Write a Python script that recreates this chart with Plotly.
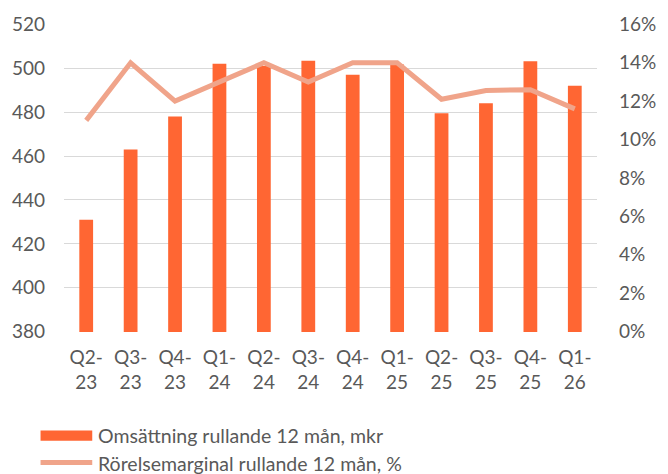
import plotly.graph_objects as go

quarters = ["Q2-<br>23", "Q3-<br>23", "Q4-<br>23", "Q1-<br>24", "Q2-<br>24", "Q3-<br>24",
            "Q4-<br>24", "Q1-<br>25", "Q2-<br>25", "Q3-<br>25", "Q4-<br>25", "Q1-<br>26"]
omsattning = [431, 463, 478, 502, 501, 503.4, 497, 501.7, 479.5, 484, 503.2, 492]
marginal = [0.110, 0.140, 0.120, 0.130, 0.140, 0.130, 0.140, 0.140, 0.121, 0.1255, 0.126, 0.116]

bar_color = "#FF6633"
line_color = "#F0A48A"
text_color = "#595959"
font_family = "Lato, 'Open Sans', sans-serif"

fig = go.Figure()

fig.add_trace(
    go.Bar(
        x=quarters,
        y=omsattning,
        marker=dict(color=bar_color, line=dict(width=0)),
        name="Omsättning rullande 12 mån, mkr",
        showlegend=False,
    )
)

fig.add_trace(
    go.Scatter(
        x=quarters,
        y=marginal,
        mode="lines",
        line=dict(color=line_color, width=5),
        yaxis="y2",
        name="Rörelsemarginal rullande 12 mån, %",
        showlegend=False,
    )
)

# hand-drawn legend below the chart
fig.add_shape(type="rect", xref="paper", yref="paper",
              x0=-0.044, x1=0.053, y0=-0.353, y1=-0.320,
              fillcolor=bar_color, line=dict(width=0))
fig.add_shape(type="line", xref="paper", yref="paper",
              x0=-0.044, x1=0.053, y0=-0.424, y1=-0.424,
              line=dict(color=line_color, width=5))
fig.add_annotation(xref="paper", yref="paper", x=0.060, y=-0.337,
                   text="Omsättning rullande 12 mån, mkr", showarrow=False,
                   xanchor="left", yanchor="middle",
                   font=dict(size=19.5, color=text_color, family=font_family))
fig.add_annotation(xref="paper", yref="paper", x=0.060, y=-0.426,
                   text="Rörelsemarginal rullande 12 mån, %", showarrow=False,
                   xanchor="left", yanchor="middle",
                   font=dict(size=19.5, color=text_color, family=font_family))

pad = 0.15
fig.update_layout(
    width=668,
    height=474,
    margin=dict(l=64, r=56, t=23, b=142),
    plot_bgcolor="white",
    paper_bgcolor="white",
    bargap=0.69,
    font=dict(family=font_family, size=19, color=text_color),
    xaxis=dict(
        showgrid=False,
        showline=False,
        ticks="",
        ticklabelstandoff=12,
    ),
    yaxis=dict(
        range=[380 - pad, 520 + pad],
        tickvals=[380, 400, 420, 440, 460, 480, 500, 520],
        gridcolor="#D9D9D9",
        gridwidth=1.2,
        zeroline=False,
        showline=False,
        ticklabelstandoff=18,
    ),
    yaxis2=dict(
        range=[0 - pad * 0.16 / 140, 0.16 + pad * 0.16 / 140],
        tickvals=[0, 0.02, 0.04, 0.06, 0.08, 0.10, 0.12, 0.14, 0.16],
        tickformat=".0%",
        overlaying="y",
        side="right",
        showgrid=False,
        zeroline=False,
        showline=False,
        ticklabelstandoff=21,
    ),
)

fig.write_html("out.html", config={"displayModeBar": False},
               post_script="document.body.style.margin='0';")
